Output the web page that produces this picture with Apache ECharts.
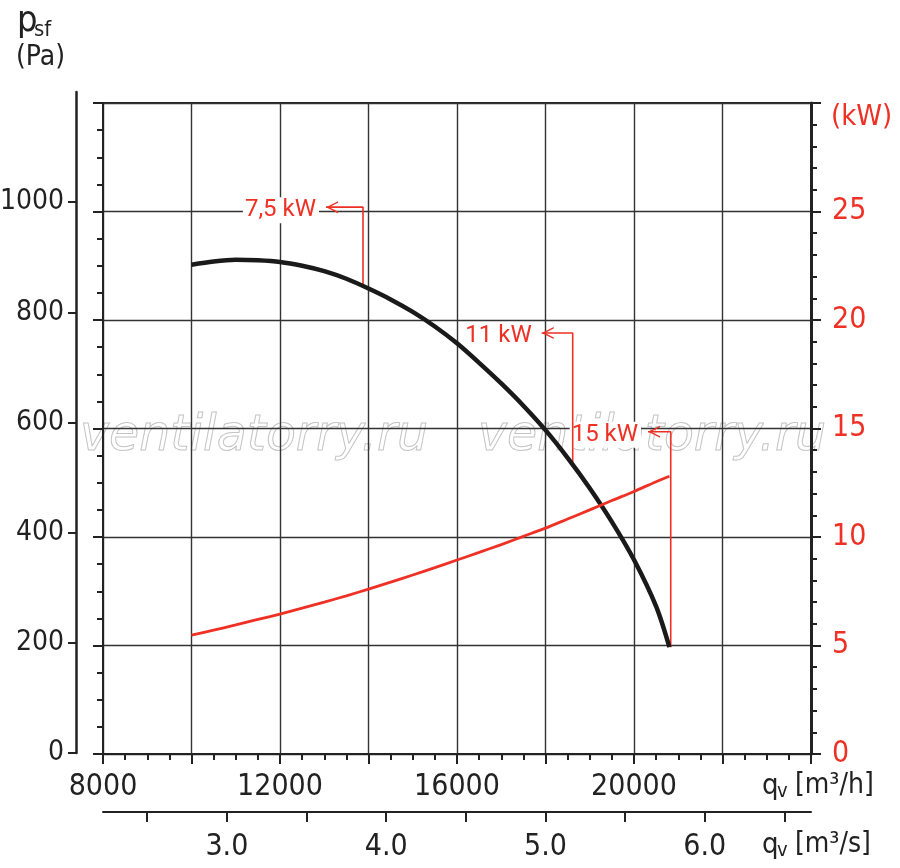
<!DOCTYPE html>
<html>
<head>
<meta charset="utf-8">
<script src="https://cdn.jsdelivr.net/npm/echarts@6/dist/echarts.min.js"></script>
<style>
  html, body { margin: 0; padding: 0; background: #fff; }
  #chart { width: 900px; height: 868px; }
</style>
</head>
<body>
<div id="chart"></div>
<script>
// fan curve data
var flowM3h  = [10000, 10500, 11000, 11500, 12000, 12500, 13000, 13500, 14000, 14500, 15000, 15500,
                16000, 16500, 17000, 17500, 18000, 18500, 19000, 19500, 20000, 20500, 20800];
var pressure = [902, 908, 911, 910, 907, 900, 890, 876, 858, 838, 815, 788,
                757, 721, 683, 642, 597, 546, 490, 428, 358, 272, 197];
var powerKw  = [5.48, 5.71, 5.95, 6.2, 6.45, 6.72, 7.0, 7.29, 7.6, 7.92, 8.25, 8.59,
                8.94, 9.29, 9.65, 10.03, 10.41, 10.83, 11.25, 11.68, 12.1, 12.55, 12.8];

// motor power markers (flow of vertical line, Pa at curve, Pa at top, flow of arrow tip)
var markerText = ['7,5 kW', '11 kW', '15 kW'];
var markerFlow = [13876, 18615, 20830];
var markerFoot = [862, 533, 197];
var markerTop  = [1008, 776, 594];
var markerTip  = [13040, 17915, 20317];

// tick labels
var pressureTicks = [0, 200, 400, 600, 800, 1000];
var flowSecTicks  = [2.5, 3, 3.5, 4, 4.5, 5, 5.5, 6, 6.5];
var flowSecLabels = [3, 4, 5, 6];

var FONT = "'Liberation Sans Narrow', 'DejaVu Sans Condensed', Roboto, sans-serif";
var RED = '#ee3124';
var DARK = '#222';

var chart = echarts.init(document.getElementById('chart'));

function toPairs(xs, ys) {
  return xs.map(function (x, i) { return [x, ys[i]]; });
}

var arrowPath = 'path://M12,0 L0,6 L12,12 L12,10.4 L3.2,6 L12,1.6 Z';

var markerSeries = markerText.map(function (txt, i) {
  return {
    type: 'line',
    xAxisIndex: 0,
    yAxisIndex: 0,
    symbol: 'none',
    silent: true,
    z: 2,
    lineStyle: { color: RED, width: 1.6 },
    data: [[markerTip[i], markerTop[i]], [markerFlow[i], markerTop[i]], [markerFlow[i], markerFoot[i]]],
    markPoint: {
      silent: true,
      z: 2,
      data: [{
        coord: [markerTip[i], markerTop[i]],
        symbol: arrowPath,
        symbolSize: [12, 12],
        symbolOffset: [6, 0],
        itemStyle: { color: RED },
        label: {
          show: true,
          position: 'left',
          distance: 7,
          offset: [0, 3],
          formatter: txt,
          color: RED,
          fontFamily: 'Roboto, sans-serif',
          fontSize: 24,
          backgroundColor: '#fff',
          padding: [1, 3, 1, 2]
        }
      }]
    }
  };
});

function txt(x, y, s, size, color, extra) {
  var o = {
    type: 'text',
    x: x, y: y,
    silent: true,
    style: {
      text: s,
      fill: color || DARK,
      font: size + 'px ' + FONT,
      textVerticalAlign: 'middle'
    }
  };
  if (extra) { for (var k in extra) o.style[k] = extra[k]; }
  return o;
}

var option = {
  backgroundColor: '#fff',
  animation: false,
  grid: [
    { left: 103, right: 89, top: 103, bottom: 114, show: true, borderColor: DARK, borderWidth: 2 },
    { left: 75, width: 1, top: 92, bottom: 115 },
    { left: 103, right: 89, top: 802, height: 10 }
  ],
  xAxis: [
    {
      gridIndex: 0, type: 'value', min: 8000, max: 24000, interval: 2000,
      axisLine: { show: true, lineStyle: { color: DARK, width: 2 } },
      axisTick: { show: true, length: 10, lineStyle: { color: DARK, width: 2 } },
      minorTick: { show: true, splitNumber: 4, length: 6, lineStyle: { color: DARK, width: 2 } },
      splitLine: { show: true, lineStyle: { color: '#333', width: 1.4 } },
      axisLabel: {
        margin: 18, color: DARK, fontFamily: FONT, fontSize: 30,
        formatter: function (v) { return (v % 4000 === 0 && v < 24000) ? String(v) : ''; }
      }
    },
    { gridIndex: 1, type: 'value', show: false },
    {
      gridIndex: 2, type: 'value', min: 8000 / 3600, max: 24000 / 3600,
      axisLine: { show: true, lineStyle: { color: DARK, width: 2 } },
      axisTick: { show: true, length: 10, customValues: flowSecTicks, lineStyle: { color: DARK, width: 2 } },
      splitLine: { show: false },
      axisLabel: {
        margin: 20, color: DARK, fontFamily: FONT, fontSize: 30, customValues: flowSecLabels,
        formatter: function (v) { return v.toFixed(1); }
      }
    }
  ],
  yAxis: [
    {
      gridIndex: 0, type: 'value', min: 0, max: 1200, interval: 200,
      axisLine: { show: true, lineStyle: { color: DARK, width: 2 } },
      axisTick: { show: true, length: 10, lineStyle: { color: DARK, width: 2 } },
      minorTick: { show: true, splitNumber: 4, length: 6, lineStyle: { color: DARK, width: 2 } },
      splitLine: { show: true, lineStyle: { color: '#333', width: 1.4 } },
      axisLabel: { show: false }
    },
    {
      gridIndex: 0, type: 'value', position: 'right', min: 0, max: 30, interval: 5,
      axisLine: { show: true, lineStyle: { color: DARK, width: 3 } },
      axisTick: { show: true, length: 10, lineStyle: { color: DARK, width: 2 } },
      minorTick: { show: true, splitNumber: 5, length: 6, lineStyle: { color: DARK, width: 2 } },
      splitLine: { show: false },
      axisLabel: {
        margin: 21, color: RED, fontFamily: FONT, fontSize: 30,
        formatter: function (v) { return v < 30 ? String(v) : ''; }
      }
    },
    {
      gridIndex: 1, type: 'value', min: 0, max: 1200,
      axisLine: { show: true, lineStyle: { color: DARK, width: 2.5 } },
      axisTick: { show: true, length: 8, customValues: pressureTicks, lineStyle: { color: DARK, width: 2 } },
      splitLine: { show: false },
      axisLabel: {
        margin: 12, color: DARK, fontFamily: FONT, fontSize: 28, customValues: pressureTicks,
        formatter: function (v) { return String(v); }
      }
    },
    { gridIndex: 2, type: 'value', show: false }
  ],
  graphic: [
    txt(80, 437, 'ventilatorry.ru', 49, 'rgba(0,0,0,0)', { stroke: '#c4c4c4', lineWidth: 1, font: 'italic 49px "DejaVu Sans", sans-serif' }),
    txt(478, 437, 'ventilatorry.ru', 49, 'rgba(0,0,0,0)', { stroke: '#c4c4c4', lineWidth: 1, font: 'italic 49px "DejaVu Sans", sans-serif' }),
    txt(17, 22, 'p', 36),
    txt(34, 30, 'sf', 22),
    txt(16, 58, '(Pa)', 28),
    txt(831, 117, '(kW)', 29, RED),
    txt(762, 786, 'q', 29),
    txt(777, 792, 'v', 20),
    txt(795, 786, '[m³/h]', 28),
    txt(762, 845, 'q', 29),
    txt(777, 851, 'v', 20),
    txt(795, 845, '[m³/s]', 28)
  ],
  series: [
    {
      name: 'psf',
      type: 'line',
      xAxisIndex: 0, yAxisIndex: 0,
      smooth: 0.3,
      symbol: 'none',
      z: 3,
      lineStyle: { color: '#1a1a1a', width: 4.5 },
      data: toPairs(flowM3h, pressure)
    },
    {
      name: 'P',
      type: 'line',
      xAxisIndex: 0, yAxisIndex: 1,
      smooth: 0.3,
      symbol: 'none',
      z: 3,
      lineStyle: { color: RED, width: 2.8 },
      data: toPairs(flowM3h, powerKw)
    }
  ].concat(markerSeries)
};

chart.setOption(option);
</script>
</body>
</html>
